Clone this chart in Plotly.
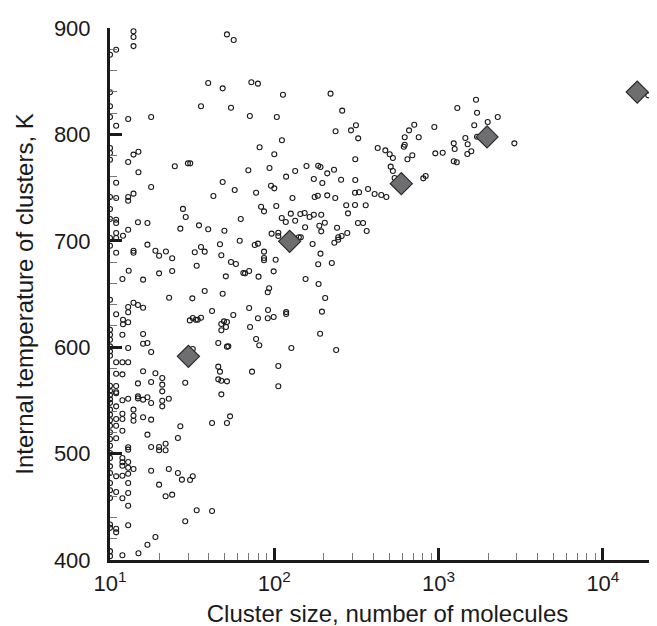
import plotly.graph_objects as go

# clusters of size 10 (sitting on the y axis)
edge_temps = [874.9, 839.6, 826.4, 816.4, 787.2, 782.5, 776.2, 741.2, 729.9, 720.5,
              702.6, 695.4, 644.6, 616.4, 611.7, 607.0, 600.8, 596.1, 592.0, 563.8,
              559.0, 555.0, 551.0, 547.7, 541.3, 536.6, 531.4, 526.2, 520.0, 513.7,
              507.4, 500.6, 495.9, 488.0, 481.8, 472.4, 465.6, 458.3, 433.3, 430.2,
              408.3, 403.6]

# upper band, small clusters
upper_sizes = [13.9, 13.9, 13.9, 10.9, 51.5, 56.6, 39.6, 48.5, 72.5, 79.5, 112.9, 35.8,
               54.5, 71, 103.6, 12.9, 17.8, 10.9, 111.3, 81.4, 100, 13.9, 14.9, 12.9,
               24.8, 29.8, 30.8, 14.9, 69.5, 93.5, 118, 10.9, 17.8, 48.5, 57.4, 42.6,
               77.5, 95.5, 100, 12.9, 12.9, 13.9, 10.9, 83.1, 102.8]
upper_temps = [897, 891.5, 883, 879.6, 894, 888.7, 848.3, 843.3, 849, 847.7, 837.3, 826.4,
               825, 817.3, 816.4, 814.5, 816.4, 808.2, 794.5, 787.9, 781.3, 781, 783.7, 774,
               770, 772.8, 772.8, 764.4, 766.3, 768.4, 760.3, 754.6, 750.6, 755.3, 747.7, 742.1,
               745.2, 751.8, 749.3, 741.2, 737.7, 744.3, 740.2, 732, 732.7]

# middle band, small clusters
mid_sizes = [27.8, 28.9, 86.6, 10.9, 10.9, 14.8, 16.9, 12.9, 10.9, 12.0, 10.9, 26.8, 34.8,
             39.6, 49.7, 62.5, 111, 117.5, 96.3, 105.8, 105.8, 61.6, 76, 79.5, 46.7, 16.9,
             10.9, 13.9, 13.9, 18.9, 19.9, 21.9, 23.9, 32.8, 35.8, 37.7, 47.6, 86.6, 86.6,
             86.6, 101.9, 54.5, 58.4, 13.0, 23.9, 33.7, 19.9, 64.8, 66.4, 70.3, 99.1, 50.7,
             80.2, 11.9, 15.9, 93, 91.2, 37.7, 48.5, 22.9, 31.7, 13.9, 14.8, 15.9, 12.9, 12.9,
             10.9, 12.0, 12.0, 12.9, 70.3, 91.6, 118.1, 118.1, 41.8, 56.3, 79.5, 91.2, 99.1,
             71.2, 30.6, 31.9, 33.3, 34.2, 35.8, 47.6, 49.4, 51.5, 50.8, 47.6, 11.9, 15.9,
             77.5, 81, 15.9, 16.9, 45.6, 51.5, 52.5, 12.9, 17.8, 31.9]
mid_temps = [730, 722.4, 727.7, 719.8, 716.7, 717.4, 716.7, 710.4, 707.3, 704.8, 702.6, 711.4,
             714.5, 710.8, 709.5, 720.5, 721.4, 717.7, 706.7, 707.6, 704.5, 700.1, 696, 697.3,
             696.7, 696.4, 688.8, 690.7, 688.8, 690.7, 686, 690, 683.6, 689.2, 694.2, 689.8,
             686.4, 689.8, 683.8, 681.7, 682.2, 680.1, 678.2, 671.9, 671.6, 676.6, 669.4,
             669.7, 669.4, 671.6, 671.3, 666.6, 666.3, 664.1, 663.5, 655.4, 651.6, 652.8,
             650.3, 646.5, 645.9, 641.8, 639.7, 637.1, 637.8, 632.8, 630.9, 625.8, 621.5,
             623.4, 636.8, 634.9, 633, 631.2, 634, 630.3, 627.2, 627.2, 628.4, 619, 625.2,
             627.4, 625.8, 625.8, 627.7, 621.8, 624.3, 623.7, 619, 615.9, 611.7, 612.4,
             607.7, 601.8, 603.3, 603.9, 603.9, 600.5, 600.8, 599.2, 595.5, 598.3]

# lower band, small clusters
low_sizes = [10.9, 11.9, 12.9, 105.8, 45.6, 46.7, 73.2, 15.9, 18.9, 10.9, 11.9, 20.8, 45.6,
             47.6, 51.5, 17.8, 14.8, 20.8, 28.7, 105.8, 10.9, 10.9, 10.9, 20.8, 47.6, 11.9,
             12.9, 14.8, 14.8, 15.9, 16.9, 17.8, 20.8, 22.8, 10.9, 20.8,
             13.9, 13.9, 13.9, 11.9, 11.9, 10.9, 10.9, 15.9, 17.8, 26.8, 11.9, 10.9, 16.9,
             25.9, 12.9, 12.9, 17.8, 19.9, 19.9, 21.8, 21.8, 11.9, 11.9, 11.9, 12.9, 12.9,
             13.9, 11.9, 12.9, 10.9, 17.8, 22.8, 25.9, 27.4, 12.9, 19.9, 10.9, 12.9, 11.9,
             21.8, 23.9, 12.9, 10.9, 10.9, 12.9, 18.9, 16.9, 11.9, 14.9,
             30.7, 31.9, 41.8, 51.5, 53.8, 33.7, 41.8, 28.7]
low_temps = [585.8, 585.8, 585.8, 582.3, 581.7, 577, 577, 577.4, 575.5, 575.1, 574.5, 571,
             569.8, 568.5, 567.9, 567.3, 566, 564.8, 566.6, 563.3, 563.5, 557.9, 556.7, 558.5,
             555.7, 550.1, 551.6, 553.8, 551.9, 550.7, 552.9, 547.6, 549.7, 551.6, 544.4, 544.4,
             541.3, 535.6, 530.9, 537.5, 532.5, 532.5, 526.2, 534.1, 531.9, 525.7, 521.5,
             514.4, 517.8, 514.7, 505.9, 503.7, 506.2, 506.2, 503.1, 509.3, 503.1, 495.9,
             491.8, 488.6, 492.1, 486.7, 485.5, 479.2, 481.1, 478.7, 483.9, 485.5, 481.8,
             475.5, 472.4, 470.8, 463.9, 463, 458, 459.9, 461.4, 451, 429.4, 426, 432.6,
             421.6, 414.4, 404.4, 406.3,
             475.2, 478.7, 528.8, 528.8, 535, 446.7, 446, 436.4]

# larger clusters (100 molecules and up)
big_sizes = [220, 259, 236, 293, 314, 324, 426, 474, 504, 527, 311, 711, 661, 622, 622, 614,
             757, 646, 692, 942, 955, 1059, 1236, 1253, 1503, 1455, 1300, 1648, 1689, 1714,
             1714, 1496, 1581, 1236, 1290, 2291, 1990, 2891, 18880, 23230,
             157, 185, 191, 231, 210, 134, 174, 196, 255, 311, 511, 527, 807, 834, 540, 129,
             176, 184, 210, 235, 310, 328, 372, 408, 448, 481, 274, 310, 360,
             126, 134, 144, 153, 164, 174, 193, 281, 154, 188, 203, 193, 241, 323, 347, 365,
             278, 257, 245, 245, 232, 141, 145, 171, 191, 185, 224, 155, 186, 204, 195, 190,
             127, 238]
big_temps = [838.3, 822.3, 802.9, 803.8, 808.6, 796.3, 787.2, 785, 781.3, 777.8, 776.6,
             809.1, 803.8, 797.3, 790.3, 788.4, 797.3, 776.6, 780.4, 807, 782.2, 782.8, 791.6,
             786.3, 790.7, 796.6, 824.8, 808.6, 832.6, 820.4, 797.8, 781.6, 784.1, 774.7,
             773.8, 816.4, 811.7, 791.6, 836.7, 843.3,
             770.3, 770.6, 769.4, 766.8, 763.4, 765.6, 758.1, 754.3, 757.4, 757.1, 769.7,
             765.6, 758.7, 760.9, 759, 740.2, 741.2, 742.4, 742.7, 740.2, 745.2, 745.6, 748.7,
             744, 743, 741.2, 733.4, 733.6, 733.4,
             725.5, 718.9, 725.2, 726.1, 722.4, 724.5, 724.5, 725.8, 712.7, 714.2, 717, 708.9,
             712.3, 716.7, 716.7, 709.2, 707.3, 704.5, 703.3, 701, 698.2, 703.3, 703.3, 697,
             687.9, 677.9, 679.1, 664.1, 659.4, 646.2, 633.4, 612.7, 599.2, 597.4]

# size-averaged temperatures (diamonds)
avg_sizes = [30, 124, 593, 1972, 16180]
avg_temps = [591.4, 699.5, 753.7, 797.6, 839.8]

all_sizes = [10] * len(edge_temps) + upper_sizes + mid_sizes + low_sizes + big_sizes
all_temps = edge_temps + upper_temps + mid_temps + low_temps + big_temps

font = 'Liberation Sans, Arial, sans-serif'

fig = go.Figure()
fig.add_trace(go.Scatter(
    x=all_sizes, y=all_temps, mode='markers', cliponaxis=False,
    marker={'symbol': 'circle-open', 'size': 5, 'color': '#1a1a1a',
            'line': {'width': 1.1}},
    showlegend=False))
fig.add_trace(go.Scatter(
    x=avg_sizes, y=avg_temps, mode='markers', cliponaxis=False,
    marker={'symbol': 'diamond', 'size': 17, 'color': '#6e6e70',
            'line': {'color': '#2a2a2a', 'width': 1.2}},
    showlegend=False))

minor_x = [m * 10 ** e for e in range(1, 5) for m in range(2, 10)]
minor_y = [v for v in range(420, 900, 20) if v % 100]

fig.update_layout(
    width=657, height=626,
    margin={'l': 102, 'r': 0, 't': 20, 'b': 74},
    paper_bgcolor='white', plot_bgcolor='white',
    font={'family': font, 'size': 20, 'color': '#1a1a1a'},
    xaxis={
        'type': 'log', 'range': [1, 4.378], 'automargin': False,
        'tickmode': 'array', 'tickvals': [10, 100, 1000, 10000],
        'ticktext': ['10<sup>1</sup>', '10<sup>2</sup>', '10<sup>3</sup>', '10<sup>4</sup>'],
        'tickfont': {'size': 22},
        'ticks': 'inside', 'ticklen': 12, 'tickwidth': 3, 'tickcolor': '#1a1a1a',
        'ticklabelstandoff': 2,
        'showline': True, 'linewidth': 3, 'linecolor': '#1a1a1a',
        'showgrid': False, 'zeroline': False,
        'minor': {'tickmode': 'array', 'tickvals': minor_x, 'ticks': 'inside',
                  'ticklen': 7, 'tickwidth': 1, 'tickcolor': '#777', 'showgrid': False},
        'title': {'text': 'Cluster size, number of molecules', 'standoff': 10},
    },
    yaxis={
        'range': [400, 900], 'tick0': 400, 'dtick': 100, 'automargin': False,
        'tickfont': {'size': 22},
        'ticks': 'inside', 'ticklen': 12, 'tickwidth': 3, 'tickcolor': '#1a1a1a',
        'ticklabelstandoff': 12,
        'showline': True, 'linewidth': 3, 'linecolor': '#1a1a1a',
        'showgrid': False, 'zeroline': False,
        'minor': {'tickmode': 'array', 'tickvals': minor_y, 'ticks': 'inside',
                  'ticklen': 7, 'tickwidth': 1, 'tickcolor': '#777', 'showgrid': False},
        'title': {'text': 'Internal temperature of clusters, K', 'standoff': 14},
    },
)

fig.write_html("out.html")
